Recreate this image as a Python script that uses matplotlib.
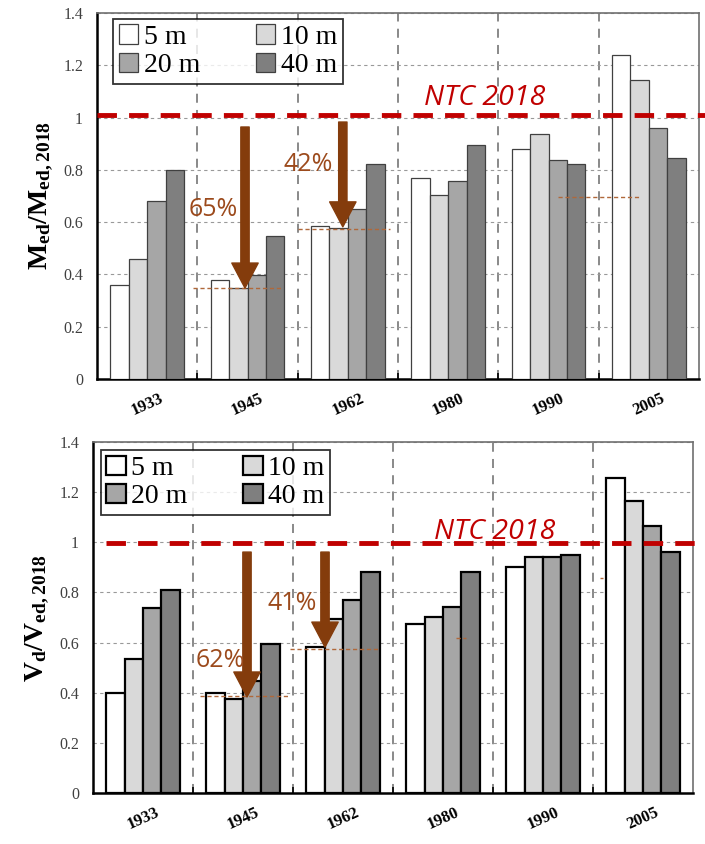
import numpy as np
import matplotlib
matplotlib.use('Agg')
import matplotlib.pyplot as plt
from matplotlib.ticker import FixedLocator

plt.rcParams['mathtext.fontset'] = 'custom'
plt.rcParams['mathtext.rm'] = 'Liberation Serif'
plt.rcParams['mathtext.bf'] = 'Liberation Serif:bold'

years = ['1933', '1945', '1962', '1980', '1990', '2005']
depths = ['5 m', '10 m', '20 m', '40 m']
colors = ['#FFFFFF', '#D9D9D9', '#A6A6A6', '#7F7F7F']

# M_ed / M_ed,2018
m_5 = [0.36, 0.38, 0.587, 0.768, 0.881, 1.241]
m_10 = [0.46, 0.35, 0.578, 0.705, 0.936, 1.142]
m_20 = [0.681, 0.398, 0.65, 0.759, 0.838, 0.960]
m_40 = [0.80, 0.548, 0.822, 0.896, 0.824, 0.847]

# V_d / V_ed,2018
v_5 = [0.398, 0.398, 0.584, 0.675, 0.900, 1.258]
v_10 = [0.535, 0.376, 0.693, 0.704, 0.943, 1.166]
v_20 = [0.737, 0.445, 0.770, 0.740, 0.943, 1.065]
v_40 = [0.808, 0.594, 0.883, 0.883, 0.951, 0.962]

BROWN = '#843C0C'
BROWN_TXT = '#9C4A1C'
RED = '#C00000'


def draw(ax, series, ylabel, edge_lw, edge_col, ntc_y, ntc_x0,
         arrows, labels, hlines, leg_anchor):
    x = np.arange(len(years))
    w = 0.183
    bars = []
    for i, vals in enumerate(series):
        b = ax.bar(x + (i - 1.5) * w, vals, w, color=colors[i], edgecolor=edge_col,
                   linewidth=edge_lw, label=depths[i], zorder=3)
        bars.append(b)

    ax.set_xlim(-0.5, 5.5)
    ax.set_ylim(0, 1.4)
    ax.set_yticks(np.arange(0, 1.41, 0.2))
    ax.set_yticklabels(['0', '0.2', '0.4', '0.6', '0.8', '1', '1.2', '1.4'],
                       family='Liberation Serif', fontsize=11.5, color='#404040')
    ax.set_xticks(x)
    ax.set_xticklabels(years, rotation=24, family='Liberation Serif',
                       fontweight='bold', fontsize=12)
    ax.tick_params(axis='x', which='major', length=0, pad=8)
    ax.tick_params(axis='y', length=0, pad=10)
    ax.xaxis.set_minor_locator(FixedLocator(np.arange(0.5, 5.0, 1.0)))
    ax.tick_params(axis='x', which='minor', direction='in', length=4, width=1.2)

    ax.grid(True, axis='y', color='#999999', linestyle=(0, (3, 3)), linewidth=0.8, zorder=0)
    for b in np.arange(0.5, 5.0, 1.0):
        ax.axvline(b, color='#808080', linestyle=(0, (5, 4)), linewidth=1.3, zorder=0)

    for s in ['left', 'bottom']:
        ax.spines[s].set_linewidth(1.8)
        ax.spines[s].set_color('black')
    for s in ['top', 'right']:
        ax.spines[s].set_linewidth(1.2)
        ax.spines[s].set_color('#707070')

    ax.set_ylabel(ylabel, fontsize=20, labelpad=6)

    # NTC 2018 reference line
    ax.plot([ntc_x0, 5.56], [ntc_y, ntc_y], color=RED, linewidth=3.5,
            linestyle=(0, (4, 2.5)), zorder=4, clip_on=False)

    for xa, y0, y1 in arrows:
        ax.annotate('', xy=(xa, y1), xytext=(xa, y0),
                    arrowprops=dict(facecolor=BROWN, edgecolor=BROWN, width=6,
                                    headwidth=19, headlength=18), zorder=6)
    for xt, yt, t in labels:
        ax.text(xt, yt, t, color=BROWN_TXT, fontsize=18, family='Open Sans',
                ha='center', va='center', zorder=6)
    for yh, xa, xb in hlines:
        ax.plot([xa, xb], [yh, yh], color='#B0683A', linestyle=(0, (3, 2)),
                linewidth=1.0, zorder=5)

    # legend filled row by row: 5 m, 10 m / 20 m, 40 m
    order = [0, 2, 1, 3]
    leg = ax.legend([bars[i] for i in order], [depths[i] for i in order],
                    ncol=2, loc='upper left', bbox_to_anchor=leg_anchor,
                    prop={'family': 'Liberation Serif', 'size': 20},
                    frameon=True, fancybox=False, edgecolor='black',
                    handlelength=0.7, handleheight=0.7, handletextpad=0.2,
                    columnspacing=2.0, labelspacing=0.1, borderpad=0.2,
                    borderaxespad=0)
    leg.get_frame().set_linewidth(1.3)
    leg.set_zorder(7)


fig = plt.figure(figsize=(7.05, 8.44), dpi=100)
ax1 = fig.add_axes([0.1376, 0.5509, 0.8539, 0.4337])
ax2 = fig.add_axes([0.1319, 0.0604, 0.8511, 0.4159])

draw(ax1, [m_5, m_10, m_20, m_40], r'$\mathbf{M_{ed}/M_{ed,2018}}$',
     0.9, '#404040', 1.008, -0.5,
     arrows=[(0.975, 0.964, 0.348), (1.95, 0.983, 0.582)],
     labels=[(0.66, 0.647, '65%'), (1.60, 0.82, '42%')],
     hlines=[(0.347, 0.46, 1.35), (0.574, 1.50, 2.42), (0.695, 4.09, 4.92)],
     leg_anchor=(0.027, 0.984))
ax1.text(3.36, 1.075, 'NTC 2018', color=RED, fontsize=20.5, family='Open Sans',
         style='italic', ha='center', va='center', zorder=6)

draw(ax2, [v_5, v_10, v_20, v_40], r'$\mathbf{V_{d}/V_{ed,2018}}$',
     1.6, 'black', 0.997, -0.37,
     arrows=[(1.04, 0.961, 0.383), (1.82, 0.961, 0.582)],
     labels=[(0.77, 0.53, '62%'), (1.49, 0.757, '41%')],
     hlines=[(0.388, 0.57, 1.45), (0.576, 1.47, 2.35), (0.62, 3.13, 3.23),
             (0.857, 4.57, 4.60)],
     leg_anchor=(0.013, 0.977))
ax2.text(3.52, 1.04, 'NTC 2018', color=RED, fontsize=20.5, family='Open Sans',
         style='italic', ha='center', va='center', zorder=6)

fig.savefig('out.png', dpi=100)
